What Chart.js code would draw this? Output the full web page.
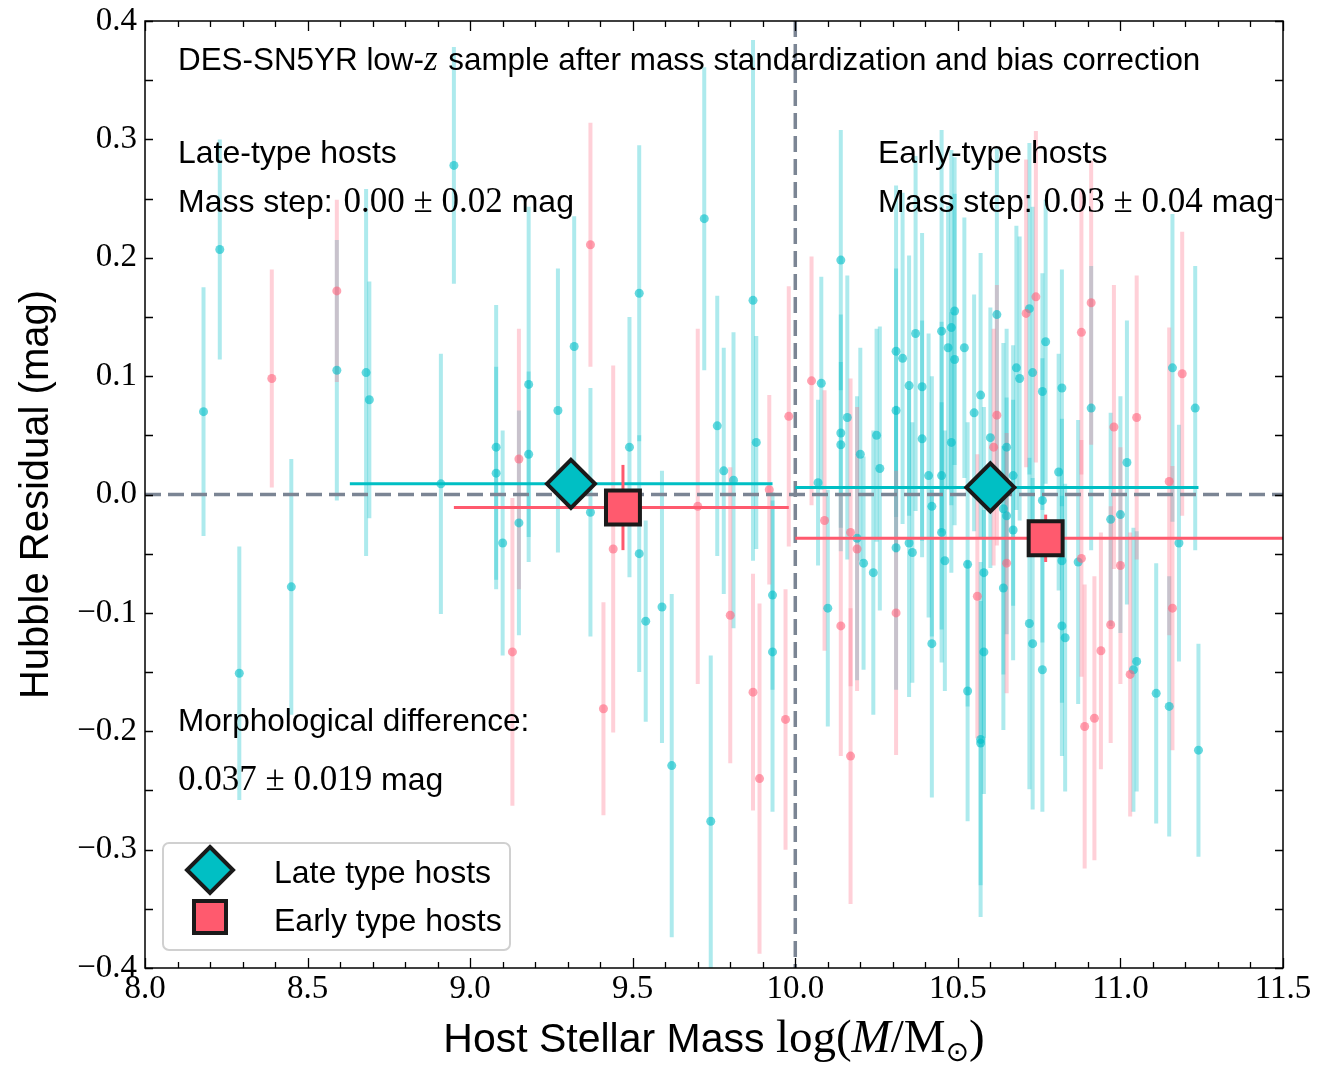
<!DOCTYPE html>
<html>
<head>
<meta charset="utf-8">
<script src="https://cdn.jsdelivr.net/npm/chart.js@4.4.1/dist/chart.umd.min.js"></script>
<style>
html, body { margin: 0; padding: 0; background: #fff; }
canvas { display: block; }
</style>
</head>
<body>
<canvas id="hr" width="1323" height="1075"></canvas>
<script>
'use strict';

// late-type hosts (individual SNe)
var lateMass = [8.18, 8.23, 8.29, 8.45, 8.59, 8.68, 8.69, 8.91, 8.95, 9.08, 9.08, 9.10, 9.15, 9.18, 9.18, 9.27, 9.32, 9.37, 9.49, 9.52,
    9.52, 9.54, 9.59, 9.62, 9.72, 9.74, 9.76, 9.78, 9.81, 9.87, 9.88, 9.93, 9.93,
    10.07, 10.08, 10.10, 10.14, 10.14, 10.14, 10.16, 10.19, 10.20, 10.21, 10.24, 10.25, 10.26, 10.31, 10.31, 10.31, 10.33, 10.35,
    10.35, 10.36, 10.37, 10.39, 10.39, 10.41, 10.42, 10.42, 10.45, 10.45, 10.45, 10.46, 10.47, 10.48, 10.48, 10.49, 10.49, 10.52,
    10.53, 10.53, 10.55, 10.57, 10.57, 10.57, 10.58, 10.58, 10.60, 10.62, 10.64, 10.64, 10.65, 10.65, 10.67, 10.67, 10.68, 10.69,
    10.72, 10.72, 10.73, 10.73, 10.76, 10.76, 10.76, 10.77, 10.81, 10.82, 10.82, 10.82, 10.83, 10.87, 10.91, 10.97, 11.00, 11.02,
    11.04, 11.05, 11.11, 11.15, 11.16, 11.18, 11.23, 11.24];
var lateResid = [0.070, 0.207, -0.151, -0.078, 0.105, 0.103, 0.080, 0.009, 0.278, 0.040, 0.018, -0.041, -0.024, 0.093, 0.034, 0.071, 0.125, -0.015, 0.040, 0.170,
    -0.050, -0.107, -0.095, -0.229, 0.233, -0.276, 0.058, 0.020, 0.012, 0.164, 0.044, -0.085, -0.133,
    0.010, 0.094, -0.096, 0.198, 0.052, 0.042, 0.065, -0.037, 0.034, -0.058, -0.066, 0.050, 0.022, 0.121, 0.071, -0.045, 0.115, 0.092,
    -0.041, -0.049, 0.136, 0.091, 0.047, 0.016, -0.010, -0.126, 0.138, 0.016, -0.032, -0.056, 0.124, 0.141, 0.044, 0.155, 0.114, 0.124,
    -0.059, -0.166, 0.069, 0.084, -0.207, -0.210, -0.066, -0.133, 0.048, 0.152, -0.012, -0.079, 0.040, -0.018, 0.016, -0.030, 0.107, 0.098,
    0.157, -0.109, 0.103, -0.126, 0.087, -0.005, -0.148, 0.129, 0.019, 0.090, -0.056, -0.111, -0.121, -0.057, 0.073, -0.021, -0.017, 0.027,
    -0.148, -0.141, -0.168, -0.179, 0.107, -0.041, 0.073, -0.216];
var lateErr = [0.105, 0.093, 0.107, 0.108, 0.110, 0.155, 0.100, 0.110, 0.100, 0.120, 0.090, 0.095, 0.095, 0.150, 0.070, 0.120, 0.110, 0.105, 0.110, 0.125,
    0.100, 0.085, 0.115, 0.145, 0.128, 0.140, 0.110, 0.104, 0.125, 0.220, 0.090, 0.080, 0.135,
    0.070, 0.090, 0.100, 0.110, 0.100, 0.070, 0.120, 0.120, 0.090, 0.090, 0.120, 0.090, 0.120, 0.140, 0.120, 0.120, 0.140, 0.110,
    0.130, 0.110, 0.150, 0.130, 0.100, 0.120, 0.110, 0.130, 0.170, 0.130, 0.110, 0.110, 0.120, 0.150, 0.110, 0.130, 0.140, 0.110,
    0.120, 0.110, 0.100, 0.120, 0.150, 0.120, 0.140, 0.120, 0.110, 0.140, 0.140, 0.120, 0.100, 0.100, 0.110, 0.110, 0.120, 0.120,
    0.140, 0.140, 0.140, 0.140, 0.100, 0.120, 0.120, 0.120, 0.100, 0.100, 0.120, 0.110, 0.130, 0.120, 0.120, 0.090, 0.100, 0.120,
    0.120, 0.110, 0.110, 0.110, 0.130, 0.100, 0.120, 0.090];

// early-type hosts (individual SNe)
var earlyMass = [8.39, 8.59, 9.13, 9.15, 9.37, 9.41, 9.44, 9.70, 9.80, 9.87, 9.89, 9.92, 9.97, 9.98,
    10.05, 10.09, 10.14, 10.17, 10.17, 10.19, 10.31, 10.56, 10.61, 10.62, 10.65, 10.71, 10.74, 10.88, 10.88,
    10.89, 10.91, 10.92, 10.94, 10.97, 10.98, 11.00, 11.03, 11.05, 11.15, 11.16, 11.19];
var earlyResid = [0.098, 0.172, -0.133, 0.030, 0.211, -0.181, -0.046, -0.010, -0.102, -0.167, -0.240, 0.004, -0.190, 0.066,
    0.096, -0.022, -0.111, -0.032, -0.221, -0.046, -0.100, -0.086, 0.040, 0.067, -0.058, 0.153, 0.167, 0.137, -0.054,
    -0.196, 0.162, -0.189, -0.132, -0.110, 0.057, -0.060, -0.152, 0.065, 0.011, -0.096, 0.102];
var earlyErr = [0.092, 0.077, 0.130, 0.110, 0.103, 0.090, 0.155, 0.150, 0.125, 0.100, 0.148, 0.080, 0.110, 0.110,
    0.105, 0.110, 0.110, 0.130, 0.125, 0.120, 0.120, 0.120, 0.100, 0.110, 0.110, 0.130, 0.140, 0.120, 0.100,
    0.120, 0.120, 0.120, 0.100, 0.100, 0.120, 0.100, 0.120, 0.120, 0.130, 0.120, 0.120];

// binned means (below / above 10^10 Msun)
var binLateMass = [9.31, 10.60];
var binLateResid = [0.009, 0.006];
var binLateErr = [0.015, 0.015];
var binLateLo = [8.63, 10.0];
var binLateHi = [9.93, 11.24];

var binEarlyMass = [9.47, 10.77];
var binEarlyResid = [-0.011, -0.037];
var binEarlyErr = [0.036, 0.02];
var binEarlyLo = [8.95, 10.0];
var binEarlyHi = [9.98, 11.6];

var massSplit = 10.0;

const CYAN = '#00bfc4';
const PINK = '#ff5a6e';
const SANS = '"Liberation Sans", Arial, sans-serif';
const SERIF = '"Liberation Serif", "Times New Roman", serif';

function toPoints(xs, ys) {
    return xs.map(function (v, i) { return { x: v, y: ys[i] }; });
}

function drawRuns(ctx, x, y, runs) {
    runs.forEach(function (r) {
        ctx.font = r.f;
        ctx.fillText(r.t, x, y + (r.dy || 0));
        x += ctx.measureText(r.t).width + (r.sp || 0);
    });
    return x;
}

function runsWidth(ctx, runs) {
    var w = 0;
    runs.forEach(function (r) {
        ctx.font = r.f;
        w += ctx.measureText(r.t).width + (r.sp || 0);
    });
    return w;
}

const errorBars = {
    id: 'errorBars',
    beforeDatasetsDraw(chart) {
        const { ctx, chartArea: a, scales: { x, y } } = chart;
        ctx.save();
        ctx.beginPath();
        ctx.rect(a.left, a.top, a.right - a.left, a.bottom - a.top);
        ctx.clip();
        chart.data.datasets.forEach(function (ds) {
            if (!ds.yerr || ds.binned) return;
            ctx.strokeStyle = ds.barColor;
            ctx.lineWidth = 4;
            ds.data.forEach(function (p, i) {
                const px = x.getPixelForValue(p.x);
                ctx.beginPath();
                ctx.moveTo(px, y.getPixelForValue(p.y - ds.yerr[i]));
                ctx.lineTo(px, y.getPixelForValue(p.y + ds.yerr[i]));
                ctx.stroke();
            });
        });
        ctx.restore();
    },
    beforeDatasetDraw(chart, args) {
        if (args.index !== 2) return;
        const { ctx, chartArea: a, scales: { x, y } } = chart;
        ctx.save();
        ctx.beginPath();
        ctx.rect(a.left, a.top, a.right - a.left, a.bottom - a.top);
        ctx.clip();

        // reference lines
        ctx.strokeStyle = '#7b8594';
        ctx.lineWidth = 3.5;
        ctx.setLineDash([16, 7]);
        ctx.beginPath();
        ctx.moveTo(a.left, y.getPixelForValue(0));
        ctx.lineTo(a.right, y.getPixelForValue(0));
        ctx.stroke();
        ctx.beginPath();
        ctx.moveTo(x.getPixelForValue(massSplit), a.top);
        ctx.lineTo(x.getPixelForValue(massSplit), a.bottom);
        ctx.stroke();
        ctx.setLineDash([]);

        // binned ranges
        [2, 3].forEach(function (k) {
            const ds = chart.data.datasets[k];
            ctx.strokeStyle = ds.backgroundColor;
            ctx.lineWidth = 3;
            ds.data.forEach(function (p, i) {
                const py = y.getPixelForValue(p.y);
                const px = x.getPixelForValue(p.x);
                ctx.beginPath();
                ctx.moveTo(x.getPixelForValue(ds.xlo[i]), py);
                ctx.lineTo(x.getPixelForValue(ds.xhi[i]), py);
                ctx.stroke();
                ctx.beginPath();
                ctx.moveTo(px, y.getPixelForValue(p.y - ds.yerr[i]));
                ctx.lineTo(px, y.getPixelForValue(p.y + ds.yerr[i]));
                ctx.stroke();
            });
        });
        ctx.restore();
    }
};

const frameAndTicks = {
    id: 'frameAndTicks',
    afterDraw(chart) {
        const { ctx, chartArea: a, scales: { x, y } } = chart;
        ctx.save();
        ctx.strokeStyle = '#000';
        ctx.lineWidth = 1.5;
        ctx.strokeRect(a.left, a.top, a.right - a.left, a.bottom - a.top);
        ctx.lineWidth = 1.3;
        ctx.beginPath();
        for (let i = 0; i <= 35; i++) {
            const v = 8 + i * 0.1;
            const px = Math.round(x.getPixelForValue(v)) + 0.5;
            const len = i % 5 === 0 ? 10 : 6;
            ctx.moveTo(px, a.bottom); ctx.lineTo(px, a.bottom - len);
            ctx.moveTo(px, a.top); ctx.lineTo(px, a.top + len);
        }
        for (let j = 0; j <= 16; j++) {
            const v = -0.4 + j * 0.05;
            const py = Math.round(y.getPixelForValue(v)) + 0.5;
            const len = 8;
            ctx.moveTo(a.left, py); ctx.lineTo(a.left + len, py);
            ctx.moveTo(a.right, py); ctx.lineTo(a.right - len, py);
        }
        ctx.stroke();
        ctx.restore();
    }
};

const annotations = {
    id: 'annotations',
    afterDraw(chart) {
        const { ctx, chartArea: a } = chart;
        const sans = '32px ' + SANS;
        const serif = '35px ' + SERIF;
        const serifIt = 'italic 35px ' + SERIF;
        ctx.save();
        ctx.fillStyle = '#000';
        ctx.textBaseline = 'alphabetic';
        ctx.textAlign = 'left';

        drawRuns(ctx, 178, 70, [
            { t: 'DES-SN5YR low-', f: '31.4px ' + SANS },
            { t: 'z', f: serifIt, sp: 2 },
            { t: ' sample after mass standardization and bias correction', f: '31.4px ' + SANS }
        ]);

        drawRuns(ctx, 178, 163, [{ t: 'Late-type hosts', f: sans }]);
        drawRuns(ctx, 178, 212, [
            { t: 'Mass step: ', f: sans, sp: 2 },
            { t: '0.00 \u00b1 0.02', f: serif },
            { t: ' mag', f: sans }
        ]);
        drawRuns(ctx, 878, 163, [{ t: 'Early-type hosts', f: sans }]);
        drawRuns(ctx, 878, 212, [
            { t: 'Mass step: ', f: sans, sp: 2 },
            { t: '0.03 \u00b1 0.04', f: serif },
            { t: ' mag', f: sans }
        ]);
        drawRuns(ctx, 178, 731, [{ t: 'Morphological difference:', f: '31.5px ' + SANS }]);
        drawRuns(ctx, 178, 790, [
            { t: '0.037 \u00b1 0.019', f: serif },
            { t: ' mag', f: sans }
        ]);

        // y title
        ctx.save();
        ctx.translate(48, (a.top + a.bottom) / 2);
        ctx.rotate(-Math.PI / 2);
        ctx.font = '40px ' + SANS;
        ctx.textAlign = 'center';
        ctx.fillText('Hubble Residual (mag)', 0, 0);
        ctx.restore();

        // x title
        const xr = [
            { t: 'Host Stellar Mass ', f: '41px ' + SANS },
            { t: 'log(', f: '47px ' + SERIF },
            { t: 'M', f: 'italic 47px ' + SERIF },
            { t: '/M', f: '47px ' + SERIF },
            { t: '\u2299', f: '28px "DejaVu Sans", ' + SERIF, dy: 9 },
            { t: ')', f: '47px ' + SERIF }
        ];
        const w = runsWidth(ctx, xr);
        drawRuns(ctx, (a.left + a.right) / 2 - w / 2, 1052, xr);

        // legend
        const lx = 163, ly = 843, lw = 347, lh = 107, r = 6;
        ctx.beginPath();
        ctx.moveTo(lx + r, ly);
        ctx.arcTo(lx + lw, ly, lx + lw, ly + lh, r);
        ctx.arcTo(lx + lw, ly + lh, lx, ly + lh, r);
        ctx.arcTo(lx, ly + lh, lx, ly, r);
        ctx.arcTo(lx, ly, lx + lw, ly, r);
        ctx.closePath();
        ctx.fillStyle = 'rgba(255,255,255,0.85)';
        ctx.fill();
        ctx.strokeStyle = '#d0d0d0';
        ctx.lineWidth = 2;
        ctx.stroke();

        ctx.lineWidth = 4;
        ctx.strokeStyle = '#1a1a1a';
        ctx.beginPath();
        ctx.moveTo(210, 870 - 23); ctx.lineTo(210 + 23, 870); ctx.lineTo(210, 870 + 23); ctx.lineTo(210 - 23, 870);
        ctx.closePath();
        ctx.fillStyle = CYAN; ctx.fill(); ctx.stroke();
        ctx.beginPath();
        ctx.rect(210 - 16, 917 - 16, 32, 32);
        ctx.fillStyle = PINK; ctx.fill(); ctx.stroke();

        ctx.fillStyle = '#000';
        drawRuns(ctx, 274, 883, [{ t: 'Late type hosts', f: sans }]);
        drawRuns(ctx, 274, 931, [{ t: 'Early type hosts', f: sans }]);
        ctx.restore();
    }
};

new Chart(document.getElementById('hr'), {
    type: 'scatter',
    data: {
        datasets: [
            {
                label: 'Late type hosts',
                data: toPoints(lateMass, lateResid),
                yerr: lateErr,
                barColor: 'rgba(0, 190, 200, 0.32)',
                backgroundColor: 'rgba(0, 190, 200, 0.6)',
                borderWidth: 0,
                pointRadius: 4.5,
                order: 4,
            },
            {
                label: 'Early type hosts',
                data: toPoints(earlyMass, earlyResid),
                yerr: earlyErr,
                barColor: 'rgba(255, 110, 135, 0.32)',
                backgroundColor: 'rgba(255, 100, 125, 0.6)',
                borderWidth: 0,
                pointRadius: 4.5,
                order: 3,
            },
            {
                label: 'Late bins',
                binned: true,
                data: toPoints(binLateMass, binLateResid),
                yerr: binLateErr,
                xlo: binLateLo,
                xhi: binLateHi,
                backgroundColor: CYAN,
                borderColor: '#1a1a1a',
                borderWidth: 4,
                pointStyle: 'rectRot',
                pointRadius: 24,
                order: 2,
            },
            {
                label: 'Early bins',
                binned: true,
                data: toPoints(binEarlyMass, binEarlyResid),
                yerr: binEarlyErr,
                xlo: binEarlyLo,
                xhi: binEarlyHi,
                backgroundColor: PINK,
                borderColor: '#1a1a1a',
                borderWidth: 4,
                pointStyle: 'rect',
                pointRadius: 24,
                order: 1,
            },
        ],
    },
    options: {
        responsive: false,
        animation: false,
        events: [],
        layout: {
            autoPadding: false,
            padding: { top: 21, right: 40, left: 0, bottom: 0 },
        },
        scales: {
            x: {
                type: 'linear',
                min: 8,
                max: 11.5,
                afterFit: function (scale) {
                    scale.height = 107;
                    scale.paddingLeft = 0;
                    scale.paddingRight = 0;
                },
                grid: { display: false, drawTicks: false },
                border: { display: false },
                ticks: {
                    stepSize: 0.5,
                    autoSkip: false,
                    maxRotation: 0,
                    padding: 2,
                    color: '#000',
                    font: { family: SERIF, size: 33 },
                    callback: function (v) { return (Math.round(v * 10) / 10).toFixed(1); },
                },
            },
            y: {
                min: -0.4,
                max: 0.4,
                afterFit: function (scale) {
                    scale.width = 145;
                    scale.paddingTop = 0;
                    scale.paddingBottom = 0;
                },
                grid: { display: false, drawTicks: false },
                border: { display: false },
                ticks: {
                    stepSize: 0.1,
                    padding: 8,
                    color: '#000',
                    font: { family: SERIF, size: 33 },
                    callback: function (v) {
                        var r = Math.round(v * 10) / 10;
                        return (r < 0 ? '\u2212' : '') + Math.abs(r).toFixed(1);
                    },
                },
            },
        },
        plugins: {
            legend: { display: false },
            tooltip: { enabled: false },
        },
    },
    plugins: [errorBars, frameAndTicks, annotations],
});
</script>
</body>
</html>
